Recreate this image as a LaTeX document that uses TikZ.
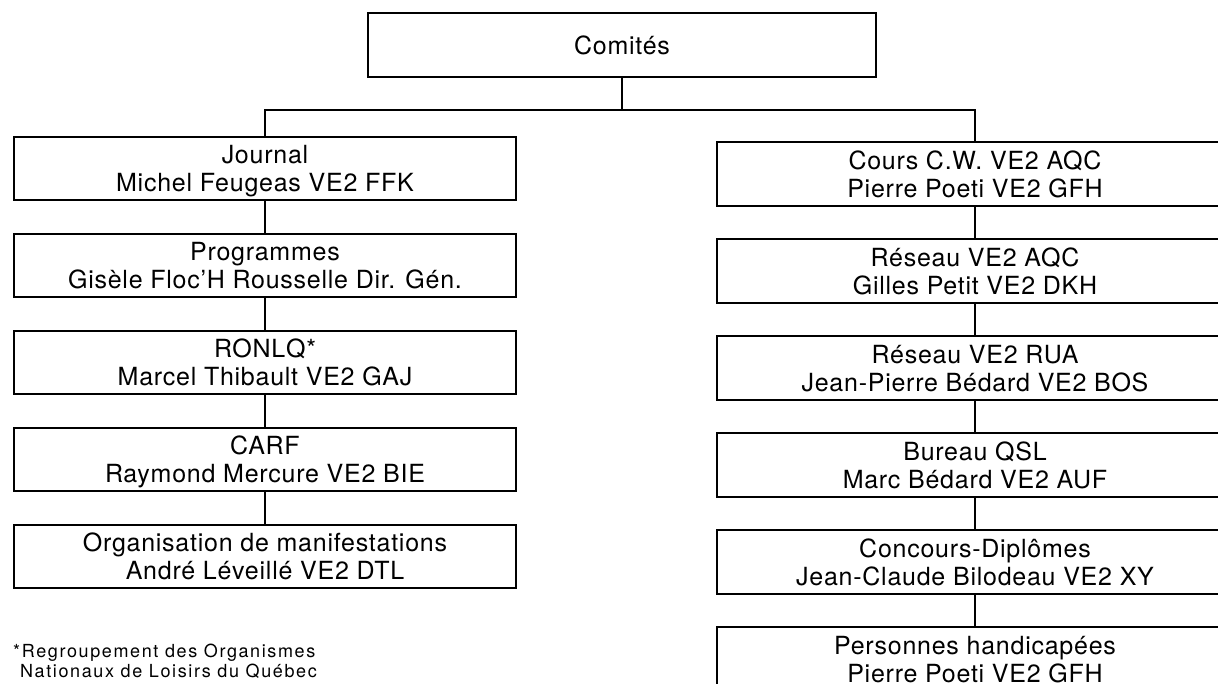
\documentclass[tikz,border=0pt]{standalone}
\usepackage{fontspec}
\setmainfont{TeX Gyre Heros}[LetterSpace=3]
\newfontfamily\notefont{TeX Gyre Heros}[LetterSpace=9]
\usetikzlibrary{positioning}

\begin{document}
\begin{tikzpicture}[x=1pt,y=-1pt,font=\fontsize{25}{28}\selectfont,
 topbox/.style={draw,line width=2pt,minimum width=508pt,minimum height=64pt,inner sep=0pt},
 leftbox/.style={draw,line width=2pt,align=center,minimum width=502pt,minimum height=63pt,inner sep=0pt,text depth=0pt},
 rightbox/.style={draw,line width=2pt,align=center,minimum width=516pt,minimum height=64pt,inner sep=0pt,text depth=0pt},
 note/.style={anchor=north west,align=left,inner sep=0pt,font=\notefont\fontsize{18}{19.5}\selectfont},
 link/.style={line width=2.5pt}]
\useasboundingbox (0,0) rectangle (1218,683);
\clip (0,0) rectangle (1218,683);
\node[topbox] (comites) at (622,45) {Comités};
% left column
\node[leftbox] (journal) at (265,168.5) {Journal\\Michel Feugeas VE2 FFK};
\node[leftbox,below=32pt of journal] (prog) {Programmes\\Gisèle Floc'H Rousselle Dir. Gén.};
\node[leftbox,below=32pt of prog] (ronlq) {RONLQ*\\Marcel Thibault VE2 GAJ};
\node[leftbox,below=32pt of ronlq] (carf) {CARF\\Raymond Mercure VE2 BIE};
\node[leftbox,below=32pt of carf] (manif) {Organisation de manifestations\\André Léveillé VE2 DTL};
\node[note] (footnote) at (13,644) {*Regroupement des Organismes\\\phantom{*}Nationaux de Loisirs du Québec};
% right column
\node[rightbox] (cours) at (975,174) {Cours C.W. VE2 AQC\\Pierre Poeti VE2 GFH};
\node[rightbox,below=31pt of cours] (aqc) {Réseau VE2 AQC\\Gilles Petit VE2 DKH};
\node[rightbox,below=31pt of aqc] (rua) {Réseau VE2 RUA\\Jean-Pierre Bédard VE2 BOS};
\node[rightbox,below=31pt of rua] (qsl) {Bureau QSL\\Marc Bédard VE2 AUF};
\node[rightbox,below=31pt of qsl] (diplomes) {Concours-Diplômes\\Jean-Claude Bilodeau VE2 XY};
\node[rightbox,below=31pt of diplomes] (handicap) {Personnes handicapées\\Pierre Poeti VE2 GFH};
\coordinate (fork) at (622,110);
\draw[link] (comites.south)--(fork);
\draw[link] (journal.north)|-(fork)-|(cours.north);
\draw[link] (journal.south)--(prog.north);
\draw[link] (prog.south)--(ronlq.north);
\draw[link] (ronlq.south)--(carf.north);
\draw[link] (carf.south)--(manif.north);
\draw[link] (cours.south)--(aqc.north);
\draw[link] (aqc.south)--(rua.north);
\draw[link] (rua.south)--(qsl.north);
\draw[link] (qsl.south)--(diplomes.north);
\draw[link] (diplomes.south)--(handicap.north);
\end{tikzpicture}
\end{document}
